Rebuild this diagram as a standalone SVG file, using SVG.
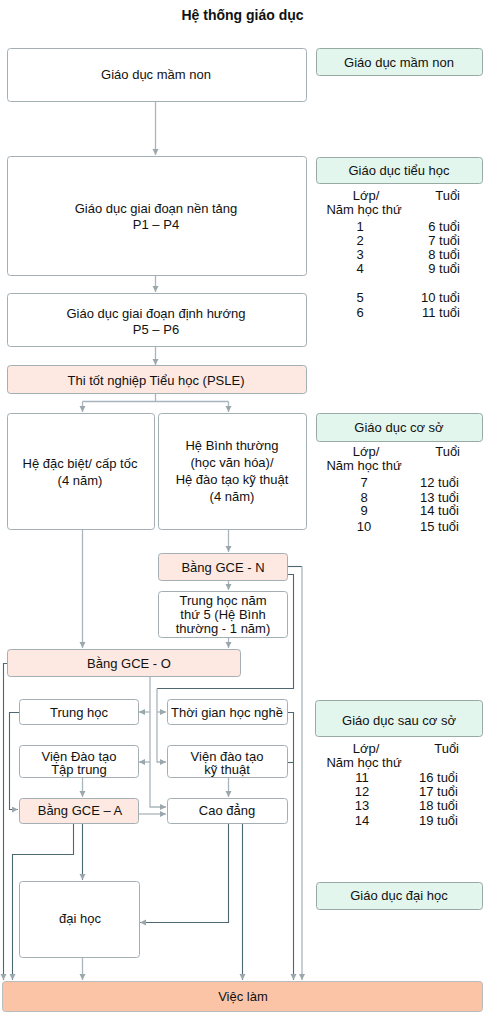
<svg xmlns="http://www.w3.org/2000/svg" width="485" height="1013" viewBox="0 0 485 1013">
<style>
text{font-family:"Liberation Sans",Arial,sans-serif;font-size:13px;fill:#111;}
.t{text-anchor:middle;}
.title{font-weight:bold;font-size:14px;}
.e{text-anchor:end;}
.box{fill:#fff;stroke:#a3afb4;stroke-width:1;}
.pink{fill:#fde9e2;stroke:#a3afb4;stroke-width:1;}
.green{fill:#e2f6ee;stroke:#98aaa3;stroke-width:1;}
.work{fill:#fcc4a7;stroke:#b7bcbd;stroke-width:1;}
.lt{fill:none;stroke:#a9b5ba;stroke-width:1.3;}
.dk{fill:none;stroke:#4d6870;stroke-width:1.1;}
</style>
<defs>
<marker id="ar" markerUnits="userSpaceOnUse" markerWidth="7" markerHeight="7" refX="6" refY="3" orient="auto">
<path d="M0,0 L6,3 L0,6 z" fill="#9aa7ad"/>
</marker>
</defs>
<rect width="485" height="1013" fill="#fff"/>
<text class="t title" x="242.5" y="20">Hệ thống giáo dục</text>

<g id="connectors">
<path class="lt" d="M155.5,102 V155" marker-end="url(#ar)"/>
<path class="lt" d="M155.5,275 V292" marker-end="url(#ar)"/>
<path class="lt" d="M155.5,347 V365" marker-end="url(#ar)"/>
<path class="lt" d="M155.5,394 V401.5 M82.5,401.5 H228.5"/>
<path class="lt" d="M82.5,401.5 V412" marker-end="url(#ar)"/>
<path class="lt" d="M228.5,401.5 V412" marker-end="url(#ar)"/>
<path class="lt" d="M82.5,530 V648" marker-end="url(#ar)"/>
<path class="lt" d="M228.5,530 V552" marker-end="url(#ar)"/>
<path class="lt" d="M228.5,580 V590" marker-end="url(#ar)"/>
<path class="lt" d="M228.5,637 V648" marker-end="url(#ar)"/>
<path class="lt" d="M150,677 V807 H166" marker-end="url(#ar)"/>
<path class="lt" d="M150,712 H139" marker-end="url(#ar)"/>
<path class="lt" d="M150,762 H139" marker-end="url(#ar)"/>
<path class="dk" d="M287,574.5 H293.5 V688.5 H157"/>
<path class="lt" d="M157,688.5 V762 H166" marker-end="url(#ar)"/>
<path class="lt" d="M157,712 H166" marker-end="url(#ar)"/>
<path class="lt" d="M138,814 H166" marker-end="url(#ar)"/>
<path class="lt" d="M82.5,777 V797" marker-end="url(#ar)"/>
<path class="lt" d="M228.5,777 V797" marker-end="url(#ar)"/>
<path class="lt" d="M82.5,958 V980" marker-end="url(#ar)"/>
<path class="dk" d="M287,566.5 H302"/>
<path class="lt" d="M302,566.5 V980" marker-end="url(#ar)"/>
<path class="dk" d="M7,663.5 H3.5 V980" marker-end="url(#ar)"/>
<path class="dk" d="M19,712.5 H9.5 V809.5 H18" marker-end="url(#ar)"/>
<path class="dk" d="M73.5,823 V854.5 H12.5 V980" marker-end="url(#ar)"/>
<path class="dk" d="M82.5,823 V880" marker-end="url(#ar)"/>
<path class="dk" d="M228.5,823 V922.5 H140" marker-end="url(#ar)"/>
<path class="dk" d="M242.5,823 V980" marker-end="url(#ar)"/>
<path class="dk" d="M287,712.5 H293.5 V980" marker-end="url(#ar)"/>
<path class="dk" d="M287,762.5 H293.5"/>
</g>

<g id="n-mamnon"><rect class="box" x="7.5" y="48.5" width="299" height="53" rx="3"/><text class="t" x="156" y="79">Giáo dục mầm non</text></g>
<g id="n-nentang"><rect class="box" x="7.5" y="156.5" width="299" height="119" rx="3"/><text class="t" x="156" y="213">Giáo dục giai đoạn nền tảng</text><text class="t" x="156" y="229">P1 – P4</text></g>
<g id="n-dinhhuong"><rect class="box" x="7.5" y="293.5" width="299" height="53" rx="3"/><text class="t" x="156" y="318">Giáo dục giai đoạn định hướng</text><text class="t" x="156" y="334">P5 – P6</text></g>
<g id="n-psle"><rect class="pink" x="7.5" y="365.5" width="299" height="28" rx="3"/><text class="t" x="156" y="385">Thi tốt nghiệp Tiểu học (PSLE)</text></g>
<g id="n-dacbiet"><rect class="box" x="7.5" y="413.5" width="147" height="116" rx="3"/><text class="t" x="80" y="468">Hệ đặc biệt/ cấp tốc</text><text class="t" x="80" y="485">(4 năm)</text></g>
<g id="n-binhthuong"><rect class="box" x="158.5" y="413.5" width="148" height="116" rx="3"/><text class="t" x="232" y="450">Hệ Bình thường</text><text class="t" x="232" y="467">(học văn hóa)/</text><text class="t" x="232" y="484">Hệ đào tạo kỹ thuật</text><text class="t" x="232" y="501">(4 năm)</text></g>
<g id="n-gcen"><rect class="pink" x="158.5" y="553.5" width="129" height="27" rx="3"/><text class="t" x="223" y="572">Bằng GCE - N</text></g>
<g id="n-th5"><rect class="box" x="158.5" y="591.5" width="129" height="46" rx="3"/><text class="t" x="223" y="605">Trung học năm</text><text class="t" x="223" y="619">thứ 5 (Hệ Bình</text><text class="t" x="223" y="633">thường - 1 năm)</text></g>
<g id="n-gceo"><rect class="pink" x="7.5" y="649.5" width="233" height="27" rx="3"/><text class="t" x="129" y="668">Bằng GCE - O</text></g>
<g id="n-trunghoc"><rect class="box" x="19.5" y="699.5" width="119" height="25" rx="3"/><text class="t" x="79" y="717">Trung học</text></g>
<g id="n-thoigian"><rect class="box" x="167.5" y="699.5" width="120" height="25" rx="3"/><text class="t" x="227" y="717">Thời gian học nghề</text></g>
<g id="n-vientaptrung"><rect class="box" x="19.5" y="745.5" width="119" height="32" rx="3"/><text class="t" x="79" y="761">Viện Đào tạo</text><text class="t" x="79" y="774">Tập trung</text></g>
<g id="n-vienkythuat"><rect class="box" x="167.5" y="745.5" width="120" height="32" rx="3"/><text class="t" x="227" y="761">Viện đào tạo</text><text class="t" x="227" y="774">kỹ thuật</text></g>
<g id="n-gcea"><rect class="pink" x="19.5" y="798.5" width="119" height="25" rx="3"/><text class="t" x="80" y="815">Bằng GCE – A</text></g>
<g id="n-caodang"><rect class="box" x="167.5" y="798.5" width="120" height="25" rx="3"/><text class="t" x="227" y="815">Cao đẳng</text></g>
<g id="n-daihoc"><rect class="box" x="19.5" y="881.5" width="120" height="76" rx="3"/><text class="t" x="80" y="923">đại học</text></g>
<g id="n-vieclam"><rect class="work" x="2.5" y="981.5" width="480" height="30" rx="3"/><text class="t" x="243" y="1001">Việc làm</text></g>

<g id="l-mamnon"><rect class="green" x="316.5" y="48.5" width="166" height="27" rx="3"/><text class="t" x="399" y="66.5">Giáo dục mầm non</text></g>
<g id="l-tieuhoc"><rect class="green" x="316.5" y="157.5" width="166" height="26" rx="3"/><text class="t" x="399" y="175">Giáo dục tiểu học</text>
<text class="t" x="366" y="200">Lớp/</text><text class="t" x="364" y="214">Năm học thứ</text><text class="e" x="460" y="200">Tuổi</text>
<text class="t" x="360" y="231">1</text><text class="e" x="460" y="231">6 tuổi</text>
<text class="t" x="360" y="245">2</text><text class="e" x="460" y="245">7 tuổi</text>
<text class="t" x="360" y="259">3</text><text class="e" x="460" y="259">8 tuổi</text>
<text class="t" x="360" y="273">4</text><text class="e" x="460" y="273">9 tuổi</text>
<text class="t" x="360" y="302">5</text><text class="e" x="460" y="302">10 tuổi</text>
<text class="t" x="360" y="317">6</text><text class="e" x="460" y="317">11 tuổi</text></g>
<g id="l-coso"><rect class="green" x="316.5" y="413.5" width="166" height="28" rx="3"/><text class="t" x="399" y="432">Giáo dục cơ sở</text>
<text class="t" x="366" y="456">Lớp/</text><text class="t" x="364" y="470">Năm học thứ</text><text class="e" x="460" y="456">Tuổi</text>
<text class="t" x="364" y="487">7</text><text class="e" x="459" y="487">12 tuổi</text>
<text class="t" x="364" y="502">8</text><text class="e" x="459" y="502">13 tuổi</text>
<text class="t" x="364" y="515">9</text><text class="e" x="459" y="515">14 tuổi</text>
<text class="t" x="364" y="531">10</text><text class="e" x="459" y="531">15 tuổi</text></g>
<g id="l-sauco"><rect class="green" x="315.5" y="700.5" width="167" height="36" rx="3"/><text class="t" x="399" y="724.5">Giáo dục sau cơ sở</text>
<text class="t" x="366" y="753">Lớp/</text><text class="t" x="364" y="767">Năm học thứ</text><text class="e" x="459" y="753">Tuổi</text>
<text class="t" x="362" y="782">11</text><text class="e" x="458" y="782">16 tuổi</text>
<text class="t" x="362" y="796">12</text><text class="e" x="458" y="796">17 tuổi</text>
<text class="t" x="362" y="810">13</text><text class="e" x="458" y="810">18 tuổi</text>
<text class="t" x="362" y="825">14</text><text class="e" x="458" y="825">19 tuổi</text></g>
<g id="l-daihoc"><rect class="green" x="316.5" y="882.5" width="166" height="27" rx="3"/><text class="t" x="399" y="900">Giáo dục đại học</text></g>
</svg>
